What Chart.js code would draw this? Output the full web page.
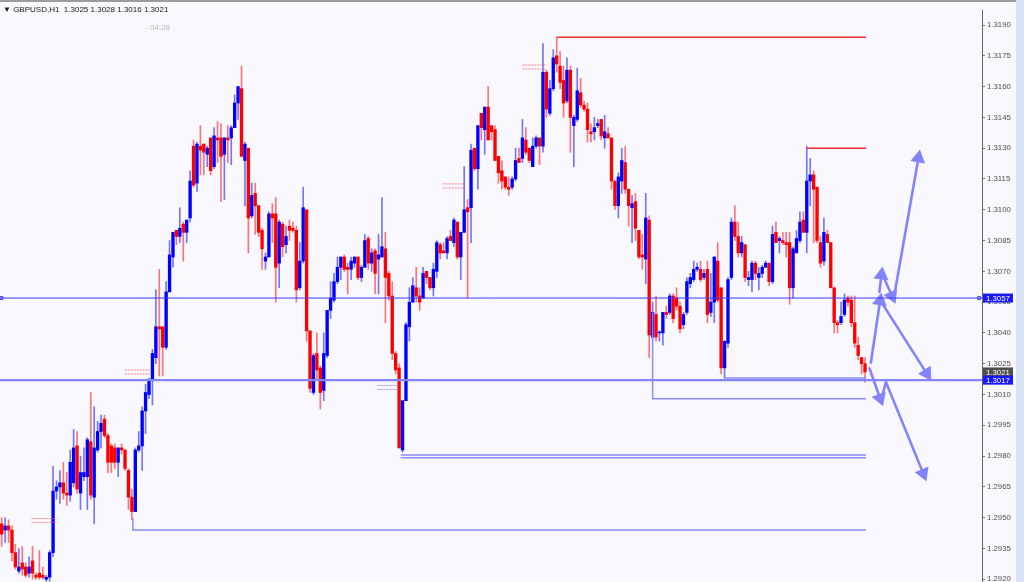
<!DOCTYPE html>
<html>
<head>
<meta charset="utf-8">
<script src="https://cdn.jsdelivr.net/npm/chart.js@4.4.0/dist/chart.umd.min.js"></script>
<style>
  html, body { margin: 0; padding: 0; overflow: hidden; background: #d8e4f3; }
  #wrap { position: absolute; left: 0; top: 0; width: 1016px; height: 600px; background: #f8f8fe; }
  #topline { position: absolute; left: 0; top: 0; width: 1016px; height: 2px; background: #9c9c9c; }
  #title { position: absolute; left: 3px; top: 6px; font: 8px "Liberation Sans", Arial, sans-serif; line-height: 8px; color: #1a1a1a; white-space: pre; }
  #timer { position: absolute; left: 145px; top: 24px; font: 8px "Liberation Sans", Arial, sans-serif; line-height: 8px; color: #b8b8b8; }
  canvas { position: absolute; left: 0; top: 0; }
</style>
</head>
<body>
<div id="wrap">
  <canvas id="chart" width="1016" height="600"></canvas>
  <div id="topline"></div>
  <div id="title">▼ GBPUSD,H1  1.3025 1.3028 1.3016 1.3021</div>
  <div id="timer">- 04:28</div>
</div>
<script>
// GBPUSD H1 candles
const opens = [
  1.2947, 1.2944, 1.2946, 1.2944, 1.2933, 1.2924, 1.2928, 1.2926, 1.2923, 1.2929,
  1.2922, 1.2923, 1.2922, 1.2920, 1.2921, 1.2933, 1.2963, 1.2965, 1.2967, 1.2962,
  1.2961, 1.2967, 1.2985, 1.2962, 1.2970, 1.2970, 1.2987, 1.2960, 1.2983, 1.2992,
  1.2998, 1.2990, 1.2985, 1.2984, 1.2977, 1.2984, 1.2983, 1.2973, 1.2960, 1.2953,
  1.2983, 1.2985, 1.3002, 1.3010, 1.3017, 1.3028, 1.3043, 1.3043, 1.3033, 1.3060,
  1.3077, 1.3090, 1.3087, 1.3093, 1.3089, 1.3096, 1.3131, 1.3113, 1.3131, 1.3132,
  1.3127, 1.3135, 1.3121, 1.3135, 1.3135, 1.3127, 1.3135, 1.3135, 1.3140, 1.3152,
  1.3159, 1.3124, 1.3130, 1.3097, 1.3108, 1.3102, 1.3090, 1.3075, 1.3077, 1.3098,
  1.3098, 1.3074, 1.3093, 1.3083, 1.3092, 1.3091, 1.3090, 1.3062, 1.3075, 1.3100,
  1.3041, 1.3011, 1.3030, 1.3023, 1.3012, 1.3029, 1.3051, 1.3056, 1.3065, 1.3072,
  1.3077, 1.3072, 1.3071, 1.3074, 1.3077, 1.3067, 1.3072, 1.3086, 1.3074, 1.3080,
  1.3076, 1.3077, 1.3081, 1.3069, 1.3058, 1.3030, 1.3023, 1.2983, 1.3007, 1.3043,
  1.3055, 1.3062, 1.3058, 1.3057, 1.3070, 1.3067, 1.3062, 1.3070, 1.3083, 1.3080,
  1.3079, 1.3087, 1.3084, 1.3094, 1.3077, 1.3089, 1.3101, 1.3101, 1.3130, 1.3120,
  1.3147, 1.3139, 1.3150, 1.3141, 1.3139, 1.3126, 1.3119, 1.3116, 1.3111, 1.3111,
  1.3115, 1.3125, 1.3125, 1.3134, 1.3130, 1.3121, 1.3131, 1.3135, 1.3131, 1.3167,
  1.3147, 1.3159, 1.3175, 1.3170, 1.3163, 1.3153, 1.3168, 1.3141, 1.3144, 1.3157,
  1.3151, 1.3149, 1.3138, 1.3138, 1.3141, 1.3144, 1.3135, 1.3137, 1.3135, 1.3114,
  1.3102, 1.3114, 1.3123, 1.3110, 1.3101, 1.3104, 1.3090, 1.3078, 1.3076, 1.3095,
  1.3038, 1.3049, 1.3040, 1.3040, 1.3050, 1.3050, 1.3058, 1.3057, 1.3053, 1.3044,
  1.3050, 1.3064, 1.3066, 1.3071, 1.3071, 1.3067, 1.3071, 1.3050, 1.3055, 1.3075,
  1.3062, 1.3023, 1.3035, 1.3067, 1.3094, 1.3087, 1.3079, 1.3083, 1.3066, 1.3066,
  1.3074, 1.3067, 1.3069, 1.3072, 1.3074, 1.3065, 1.3089, 1.3085, 1.3085, 1.3084,
  1.3084, 1.3062, 1.3079, 1.3085, 1.3095, 1.3089, 1.3114, 1.3117, 1.3111, 1.3084,
  1.3075, 1.3088, 1.3084, 1.3062, 1.3045, 1.3045, 1.3049, 1.3057, 1.3056, 1.3045,
  1.3034, 1.3028, 1.3025
];
const highs = [
  1.2950, 1.2950, 1.2949, 1.2946, 1.2937, 1.2935, 1.2936, 1.2928, 1.2931, 1.2936,
  1.2923, 1.2934, 1.2926, 1.2922, 1.2934, 1.2975, 1.2968, 1.2973, 1.2977, 1.2972,
  1.2983, 1.2993, 1.2992, 1.2980, 1.2984, 1.2989, 1.3011, 1.3004, 1.2997, 1.3000,
  1.3000, 1.2991, 1.2986, 1.2986, 1.2984, 1.2986, 1.2983, 1.2974, 1.2964, 1.2984,
  1.2992, 1.3004, 1.3015, 1.3018, 1.3032, 1.3061, 1.3071, 1.3043, 1.3065, 1.3085,
  1.3089, 1.3090, 1.3101, 1.3094, 1.3095, 1.3119, 1.3134, 1.3133, 1.3141, 1.3132,
  1.3131, 1.3135, 1.3140, 1.3143, 1.3142, 1.3135, 1.3141, 1.3141, 1.3156, 1.3160,
  1.3170, 1.3133, 1.3130, 1.3113, 1.3113, 1.3102, 1.3091, 1.3079, 1.3099, 1.3103,
  1.3106, 1.3095, 1.3094, 1.3092, 1.3095, 1.3094, 1.3092, 1.3084, 1.3111, 1.3100,
  1.3041, 1.3030, 1.3040, 1.3024, 1.3040, 1.3051, 1.3065, 1.3069, 1.3077, 1.3077,
  1.3078, 1.3074, 1.3077, 1.3077, 1.3077, 1.3073, 1.3088, 1.3087, 1.3081, 1.3081,
  1.3088, 1.3106, 1.3089, 1.3070, 1.3065, 1.3031, 1.3025, 1.3007, 1.3045, 1.3062,
  1.3067, 1.3072, 1.3062, 1.3072, 1.3070, 1.3067, 1.3074, 1.3085, 1.3084, 1.3084,
  1.3087, 1.3090, 1.3096, 1.3094, 1.3089, 1.3121, 1.3105, 1.3132, 1.3130, 1.3141,
  1.3147, 1.3150, 1.3160, 1.3141, 1.3141, 1.3126, 1.3124, 1.3116, 1.3116, 1.3116,
  1.3130, 1.3130, 1.3144, 1.3140, 1.3130, 1.3135, 1.3136, 1.3135, 1.3181, 1.3168,
  1.3163, 1.3178, 1.3184, 1.3177, 1.3170, 1.3174, 1.3170, 1.3146, 1.3169, 1.3164,
  1.3153, 1.3152, 1.3142, 1.3145, 1.3144, 1.3144, 1.3146, 1.3140, 1.3135, 1.3114,
  1.3118, 1.3130, 1.3131, 1.3110, 1.3107, 1.3108, 1.3090, 1.3088, 1.3108, 1.3097,
  1.3055, 1.3058, 1.3041, 1.3050, 1.3053, 1.3059, 1.3059, 1.3062, 1.3055, 1.3050,
  1.3067, 1.3069, 1.3075, 1.3074, 1.3075, 1.3071, 1.3075, 1.3069, 1.3077, 1.3084,
  1.3062, 1.3036, 1.3067, 1.3096, 1.3102, 1.3094, 1.3087, 1.3083, 1.3070, 1.3075,
  1.3075, 1.3072, 1.3073, 1.3075, 1.3074, 1.3092, 1.3094, 1.3087, 1.3089, 1.3089,
  1.3089, 1.3082, 1.3090, 1.3099, 1.3099, 1.3131, 1.3125, 1.3119, 1.3111, 1.3087,
  1.3096, 1.3090, 1.3084, 1.3062, 1.3046, 1.3055, 1.3059, 1.3058, 1.3058, 1.3058,
  1.3038, 1.3028, 1.3028
];
const lows = [
  1.2936, 1.2938, 1.2938, 1.2929, 1.2925, 1.2923, 1.2922, 1.2921, 1.2921, 1.2920,
  1.2920, 1.2920, 1.2920, 1.2919, 1.2919, 1.2931, 1.2959, 1.2957, 1.2959, 1.2956,
  1.2958, 1.2965, 1.2962, 1.2954, 1.2968, 1.2954, 1.2959, 1.2947, 1.2982, 1.2984,
  1.2989, 1.2972, 1.2972, 1.2974, 1.2970, 1.2981, 1.2973, 1.2954, 1.2949, 1.2953,
  1.2982, 1.2973, 1.2991, 1.3008, 1.3005, 1.3025, 1.3019, 1.3019, 1.3032, 1.3060,
  1.3072, 1.3083, 1.3084, 1.3075, 1.3084, 1.3094, 1.3111, 1.3109, 1.3117, 1.3117,
  1.3121, 1.3117, 1.3120, 1.3123, 1.3104, 1.3105, 1.3123, 1.3122, 1.3140, 1.3144,
  1.3126, 1.3102, 1.3079, 1.3096, 1.3088, 1.3087, 1.3071, 1.3071, 1.3077, 1.3084,
  1.3055, 1.3062, 1.3077, 1.3079, 1.3085, 1.3089, 1.3055, 1.3061, 1.3074, 1.3036,
  1.3011, 1.3010, 1.3017, 1.3003, 1.3007, 1.3028, 1.3047, 1.3055, 1.3064, 1.3066,
  1.3070, 1.3059, 1.3066, 1.3072, 1.3066, 1.3065, 1.3072, 1.3071, 1.3070, 1.3059,
  1.3059, 1.3077, 1.3045, 1.3056, 1.3027, 1.3020, 1.2984, 1.2982, 1.3007, 1.3036,
  1.3055, 1.3055, 1.3051, 1.3057, 1.3064, 1.3061, 1.3058, 1.3067, 1.3076, 1.3079,
  1.3076, 1.3085, 1.3082, 1.3076, 1.3066, 1.3089, 1.3057, 1.3084, 1.3119, 1.3110,
  1.3134, 1.3127, 1.3134, 1.3134, 1.3124, 1.3113, 1.3110, 1.3110, 1.3107, 1.3110,
  1.3114, 1.3123, 1.3123, 1.3127, 1.3123, 1.3121, 1.3130, 1.3122, 1.3128, 1.3145,
  1.3146, 1.3158, 1.3167, 1.3159, 1.3145, 1.3152, 1.3128, 1.3121, 1.3143, 1.3150,
  1.3148, 1.3133, 1.3133, 1.3134, 1.3140, 1.3134, 1.3130, 1.3135, 1.3110, 1.3100,
  1.3096, 1.3108, 1.3108, 1.3092, 1.3084, 1.3085, 1.3076, 1.3071, 1.3064, 1.3028,
  1.3037, 1.3036, 1.3036, 1.3034, 1.3047, 1.3049, 1.3045, 1.3051, 1.3040, 1.3042,
  1.3049, 1.3062, 1.3065, 1.3070, 1.3065, 1.3066, 1.3045, 1.3048, 1.3045, 1.3055,
  1.3020, 1.3018, 1.3033, 1.3066, 1.3085, 1.3077, 1.3077, 1.3065, 1.3063, 1.3060,
  1.3066, 1.3061, 1.3067, 1.3072, 1.3063, 1.3064, 1.3084, 1.3079, 1.3083, 1.3077,
  1.3054, 1.3057, 1.3079, 1.3084, 1.3089, 1.3079, 1.3102, 1.3084, 1.3084, 1.3072,
  1.3073, 1.3084, 1.3062, 1.3040, 1.3040, 1.3044, 1.3048, 1.3053, 1.3043, 1.3033,
  1.3027, 1.3020, 1.3016
];
const closes = [
  1.2942, 1.2946, 1.2944, 1.2933, 1.2926, 1.2926, 1.2925, 1.2922, 1.2926, 1.2923,
  1.2921, 1.2921, 1.2921, 1.2921, 1.2933, 1.2963, 1.2965, 1.2967, 1.2962, 1.2961,
  1.2977, 1.2984, 1.2964, 1.2972, 1.2972, 1.2988, 1.2961, 1.2984, 1.2992, 1.2996,
  1.2990, 1.2977, 1.2977, 1.2977, 1.2984, 1.2983, 1.2974, 1.2960, 1.2953, 1.2983,
  1.2985, 1.3002, 1.3011, 1.3017, 1.3030, 1.3043, 1.3042, 1.3033, 1.3060, 1.3078,
  1.3089, 1.3087, 1.3091, 1.3089, 1.3095, 1.3114, 1.3112, 1.3132, 1.3129, 1.3128,
  1.3130, 1.3119, 1.3136, 1.3134, 1.3126, 1.3135, 1.3134, 1.3140, 1.3152, 1.3160,
  1.3126, 1.3132, 1.3096, 1.3107, 1.3102, 1.3089, 1.3081, 1.3077, 1.3098, 1.3096,
  1.3072, 1.3094, 1.3082, 1.3087, 1.3090, 1.3090, 1.3061, 1.3075, 1.3101, 1.3041,
  1.3013, 1.3029, 1.3022, 1.3011, 1.3030, 1.3051, 1.3057, 1.3065, 1.3072, 1.3077,
  1.3071, 1.3071, 1.3075, 1.3077, 1.3067, 1.3072, 1.3085, 1.3074, 1.3079, 1.3069,
  1.3078, 1.3082, 1.3067, 1.3058, 1.3030, 1.3022, 1.2984, 1.3007, 1.3044, 1.3055,
  1.3063, 1.3058, 1.3055, 1.3069, 1.3067, 1.3062, 1.3071, 1.3084, 1.3079, 1.3079,
  1.3086, 1.3085, 1.3095, 1.3077, 1.3089, 1.3100, 1.3099, 1.3129, 1.3120, 1.3141,
  1.3140, 1.3150, 1.3134, 1.3138, 1.3124, 1.3118, 1.3114, 1.3111, 1.3110, 1.3115,
  1.3124, 1.3123, 1.3135, 1.3128, 1.3124, 1.3131, 1.3135, 1.3131, 1.3167, 1.3149,
  1.3159, 1.3174, 1.3171, 1.3162, 1.3152, 1.3168, 1.3145, 1.3145, 1.3158, 1.3151,
  1.3149, 1.3139, 1.3137, 1.3140, 1.3142, 1.3136, 1.3138, 1.3135, 1.3114, 1.3102,
  1.3116, 1.3124, 1.3110, 1.3102, 1.3103, 1.3091, 1.3077, 1.3077, 1.3096, 1.3039,
  1.3050, 1.3038, 1.3040, 1.3050, 1.3049, 1.3058, 1.3047, 1.3053, 1.3042, 1.3049,
  1.3065, 1.3067, 1.3071, 1.3072, 1.3066, 1.3069, 1.3049, 1.3055, 1.3077, 1.3056,
  1.3023, 1.3036, 1.3066, 1.3094, 1.3087, 1.3079, 1.3084, 1.3067, 1.3067, 1.3074,
  1.3069, 1.3069, 1.3072, 1.3074, 1.3065, 1.3088, 1.3084, 1.3086, 1.3084, 1.3083,
  1.3062, 1.3081, 1.3086, 1.3094, 1.3089, 1.3114, 1.3117, 1.3110, 1.3085, 1.3074,
  1.3089, 1.3084, 1.3062, 1.3045, 1.3044, 1.3048, 1.3056, 1.3055, 1.3045, 1.3035,
  1.3029, 1.3025, 1.3021
];

// price axis labels
const tickValues = [
  1.2920, 1.2935, 1.2950, 1.2965, 1.2980, 1.2995, 1.3010, 1.3025, 1.3040, 1.3055,
  1.3070, 1.3085, 1.3100, 1.3115, 1.3130, 1.3145, 1.3160, 1.3175, 1.3190
];
const priceTags = [1.3057, 1.3021, 1.3017];
const tagColors = ['#1818ff', '#4f4f4f', '#1818ff'];

// drawn objects: [bar index, price] points
const fullLines = [1.3057, 1.3017];
const lineHandles = [[-0.05, 1.3057], [285.3, 1.3057]];
const rayEnd = 252.3;
const redRays = [[162, 1.3184], [235, 1.3130]];
const blueRays = [
  [[190, 1.3050], [190, 1.3008], [rayEnd, 1.3008]],
  [[116.5, 1.29805], [rayEnd, 1.29805]],
  [[116.5, 1.29792], [rayEnd, 1.29792]],
  [[38.3, 1.2950], [38.3, 1.2944], [rayEnd, 1.2944]],
  [[211, 1.3018], [rayEnd, 1.3018]]
];
const arrows = [
  [[253.7, 1.30255], [256.4, 1.30556]],
  [[256.4, 1.30560], [270.0, 1.30203]],
  [[256.2, 1.30600], [256.8, 1.30682]],
  [[257.8, 1.30658], [259.9, 1.30580]],
  [[260.3, 1.30560], [267.6, 1.31252]],
  [[253.3, 1.30228], [256.4, 1.30082]],
  [[257.0, 1.30090], [258.1, 1.30161]],
  [[258.1, 1.30161], [269.0, 1.29716]]
];
const arrowHeads = [9, 148, 7, 156, 10, 160, null, 158];
const tradeMarks = [
  [8.7, 16.0, 1.29496, 1.29477, 'sell'],
  [35.9, 43.2, 1.30220, 1.30200, 'sell'],
  [109.7, 116.0, 1.30144, 1.30125, 'buy'],
  [128.7, 135.7, 1.31126, 1.31106, 'sell'],
  [152.0, 159.0, 1.31705, 1.31686, 'sell']
];

const idx = opens.map((_, i) => i);
const isUp = i => closes[i] >= opens[i];
const pts = arr => arr.map(p => ({ x: p[0], y: p[1] }));

const datasets = [];
datasets.push({
  type: 'bar',
  data: idx.map(i => ({ x: i, y: [lows[i], highs[i]] })),
  backgroundColor: c => isUp(c.dataIndex) ? 'rgba(30,30,255,0.6)' : 'rgba(255,30,30,0.6)',
  barThickness: 1,
  grouped: false,
  order: 3
});
datasets.push({
  type: 'bar',
  data: idx.map(i => ({ x: i, y: [opens[i], closes[i]] })),
  backgroundColor: c => isUp(c.dataIndex) ? '#0000ff' : '#ff0000',
  barThickness: 2.7,
  minBarLength: 1,
  grouped: false,
  order: 2
});

const lineBase = { type: 'line', fill: false, tension: 0, pointRadius: 0, order: 1 };

fullLines.forEach((v, k) => {
  datasets.push(Object.assign({}, lineBase, {
    data: [{ x: -0.5, y: v }, { x: 287, y: v }],
    borderColor: k === 0 ? '#3a3aff' : '#8585ff',
    borderWidth: k === 0 ? 1 : 2.2
  }));
});
datasets.push(Object.assign({}, lineBase, {
  data: pts(lineHandles),
  showLine: false,
  pointRadius: 2,
  pointStyle: 'rect',
  pointBackgroundColor: '#f8f8fe',
  pointBorderColor: '#3a3aff',
  pointBorderWidth: 1
}));
redRays.forEach(r => {
  datasets.push(Object.assign({}, lineBase, {
    data: [{ x: r[0], y: r[1] }, { x: rayEnd, y: r[1] }],
    borderColor: '#ff2a2a',
    borderWidth: 1.5
  }));
});
blueRays.forEach(r => {
  datasets.push(Object.assign({}, lineBase, {
    data: pts(r),
    borderColor: '#8c8cff',
    borderWidth: 1.5
  }));
});
tradeMarks.forEach(m => {
  const col = m[4] === 'sell' ? 'rgba(255,90,90,0.75)' : 'rgba(110,110,255,0.7)';
  [m[2], m[3]].forEach(v => {
    datasets.push(Object.assign({}, lineBase, {
      data: [{ x: m[0], y: v }, { x: m[1], y: v }],
      borderColor: col,
      borderWidth: 1,
      borderDash: [2, 1]
    }));
  });
});
arrows.forEach((a, k) => {
  const head = arrowHeads[k];
  datasets.push(Object.assign({}, lineBase, {
    data: pts(a),
    borderColor: '#8383ff',
    borderWidth: 2.6,
    pointStyle: 'triangle',
    pointRadius: [0, head === null ? 0 : 6],
    pointRotation: [0, head === null ? 0 : head],
    pointBackgroundColor: '#8383ff',
    pointBorderColor: '#8383ff',
    borderCapStyle: 'round'
  }));
});

const tagPlugin = {
  id: 'priceTags',
  afterDraw(chart) {
    const { ctx, chartArea, scales } = chart;
    ctx.save();
    ctx.font = '7.8px "Liberation Sans", Arial, sans-serif';
    ctx.textBaseline = 'middle';
    ctx.textAlign = 'left';
    priceTags.forEach((v, k) => {
      const py = scales.y.getPixelForValue(v);
      ctx.fillStyle = tagColors[k];
      ctx.fillRect(chartArea.right + 1, py - 4.5, 30, 9);
      ctx.fillStyle = '#ffffff';
      ctx.fillText(v.toFixed(4), chartArea.right + 4, py + 0.5);
    });
    ctx.restore();
  }
};

new Chart(document.getElementById('chart'), {
  type: 'bar',
  data: { datasets: datasets },
  plugins: [tagPlugin],
  options: {
    responsive: false,
    animation: false,
    events: [],
    layout: { autoPadding: false, padding: { top: 10, bottom: 10, left: 0, right: 0 } },
    plugins: { legend: { display: false }, tooltip: { enabled: false } },
    scales: {
      x: {
        type: 'linear',
        offset: false,
        grid: { offset: false },
        min: -0.496,
        max: 286.15,
        display: false
      },
      y: {
        position: 'right',
        min: 1.291479,
        max: 1.319731,
        afterBuildTicks: s => { s.ticks = tickValues.map(v => ({ value: v })); },
        afterFit: s => { s.width = 34; },
        ticks: {
          autoSkip: false,
          padding: 2,
          color: '#505050',
          font: { family: 'Liberation Sans', size: 7.8 },
          callback: v => Number(v).toFixed(4)
        },
        grid: { drawOnChartArea: false, drawTicks: true, tickLength: 3, color: '#777777' },
        border: { display: true, color: '#666666', width: 1 }
      }
    }
  }
});
</script>
</body>
</html>
